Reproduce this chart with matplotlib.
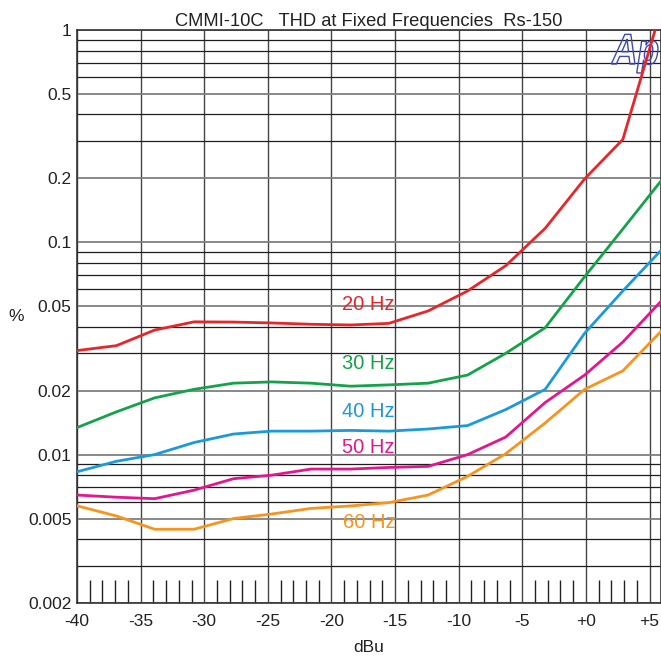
import matplotlib
matplotlib.use('Agg')
import matplotlib.pyplot as plt
from matplotlib.ticker import FixedLocator, NullFormatter
from matplotlib.textpath import TextPath
from matplotlib.patches import PathPatch
from matplotlib.font_manager import FontProperties
from matplotlib.transforms import Affine2D

# ── Data ──────────────────────────────────────────────────────────────────────
dbu = [-40, -36.9, -33.9, -30.8, -27.7, -24.7, -21.6, -18.5, -15.5, -12.4,
       -9.3, -6.3, -3.2, -0.1, 2.9, 6.0]

thd_20hz = [0.0309, 0.0326, 0.0386, 0.0422, 0.0421, 0.0417, 0.0411, 0.0408, 0.0415,
            0.0475, 0.0590, 0.0776, 0.1164, 0.199, 0.305, 1.3]
thd_30hz = [0.0134, 0.0159, 0.0185, 0.0203, 0.0217, 0.0220, 0.0217, 0.0210, 0.0213,
            0.0217, 0.0237, 0.0300, 0.0396, 0.0689, 0.1155, 0.198]
thd_40hz = [0.0083, 0.0093, 0.0100, 0.0114, 0.0125, 0.0129, 0.0129, 0.0130, 0.0129,
            0.0132, 0.0137, 0.0163, 0.0203, 0.0373, 0.059, 0.093]
thd_50hz = [0.00645, 0.0063, 0.0062, 0.0068, 0.0077, 0.0080, 0.00855, 0.00855, 0.0087,
            0.0088, 0.0100, 0.0121, 0.0176, 0.0237, 0.0339, 0.0535]
thd_60hz = [0.00574, 0.00514, 0.00445, 0.00445, 0.0050, 0.00525, 0.00558, 0.00573,
            0.00594, 0.00645, 0.0079, 0.0101, 0.0141, 0.0203, 0.0248, 0.0386]

series_labels = ['20 Hz', '30 Hz', '40 Hz', '50 Hz', '60 Hz']
label_x = [-17.1, -17.1, -17.1, -17.1, -17.0]
label_y = [0.0507, 0.0270, 0.0160, 0.01075, 0.00481]

x_ticks = [-40, -35, -30, -25, -20, -15, -10, -5, 0, 5]
x_ticklabels = ['-40', '-35', '-30', '-25', '-20', '-15', '-10', '-5', '+0', '+5']
y_ticks = [0.002, 0.005, 0.01, 0.02, 0.05, 0.1, 0.2, 0.5, 1]
y_ticklabels = ['0.002', '0.005', '0.01', '0.02', '0.05', '0.1', '0.2', '0.5', '1']

COLORS = ['#e8262a', '#14a24a', '#1b9ad8', '#e5168d', '#f7941d']

plt.rcParams['font.family'] = ['Liberation Sans', 'DejaVu Sans']

fig = plt.figure(figsize=(6.61, 6.58), dpi=100)
ax = fig.add_axes([77 / 661, 1 - 603 / 658, 1 - 77 / 661, (603 - 30) / 658])

for vals, col in zip([thd_20hz, thd_30hz, thd_40hz, thd_50hz, thd_60hz], COLORS):
    ax.plot(dbu, vals, color=col, lw=2.0, zorder=3)

for txt, lx, ly, col in zip(series_labels, label_x, label_y, COLORS):
    ax.text(lx, ly, txt, color=col, fontsize=14.5, ha='center', va='center', zorder=4)

ax.set_yscale('log')
ax.set_xlim(-40, 5.9)
ax.set_ylim(0.002, 1)

# ticks
ax.xaxis.set_major_locator(FixedLocator(x_ticks))
ax.set_xticklabels(x_ticklabels)
ax.xaxis.set_minor_locator(FixedLocator([v for v in range(-39, 6) if v % 5 != 0]))
ax.yaxis.set_major_locator(FixedLocator(y_ticks))
ax.set_yticklabels(y_ticklabels)
y_minor = [m * d for d in (0.001, 0.01, 0.1) for m in range(2, 10)
           if 0.002 < m * d < 1 and round(m * d, 4) not in y_ticks]
ax.yaxis.set_minor_locator(FixedLocator(y_minor))
ax.yaxis.set_minor_formatter(NullFormatter())
ax.xaxis.set_minor_formatter(NullFormatter())

ax.tick_params(axis='x', which='major', length=0, pad=8, labelsize=12.5, colors='#222')
ax.tick_params(axis='x', which='minor', direction='in', length=16.5, width=1.0,
               color='#222', top=False)
ax.tick_params(axis='y', which='both', length=0, pad=4, labelsize=12.5, colors='#222')

# grid
ax.xaxis.grid(True, which='major', color='#444444', lw=1.0, zorder=1)
ax.yaxis.grid(True, which='major', color='#7f7f7f', lw=1.3, zorder=1)
ax.yaxis.grid(True, which='minor', color='#1e1e1e', lw=0.9, zorder=1)
ax.set_axisbelow(True)

for sp in ax.spines.values():
    sp.set_color('#333333')
    sp.set_linewidth(1.2)

ax.set_title('CMMI-10C   THD at Fixed Frequencies  Rs-150', fontsize=13.2,
             color='#222', pad=2)
ax.set_xlabel('dBu', fontsize=12.5, color='#222')
ax.xaxis.set_label_coords(0.5, -0.065)
ax.set_ylabel('%', fontsize=12.5, color='#222', rotation=0, va='center')
ax.yaxis.set_label_coords(-0.105, 0.5)

# outlined "Ap" logo, top right (slightly condensed)
fp = FontProperties(family='Liberation Sans', weight='bold', style='italic')
tp = TextPath((0, 0), 'Ap', size=31, prop=fp)
logo = PathPatch(tp, facecolor='none', edgecolor='#3d4bb5', lw=1.0,
                 transform=Affine2D().scale(100 / 72 * 0.82, 100 / 72).translate(612, 658 - 64),
                 zorder=2)
ax.add_patch(logo)

fig.savefig('out.png', dpi=100, facecolor='white')
